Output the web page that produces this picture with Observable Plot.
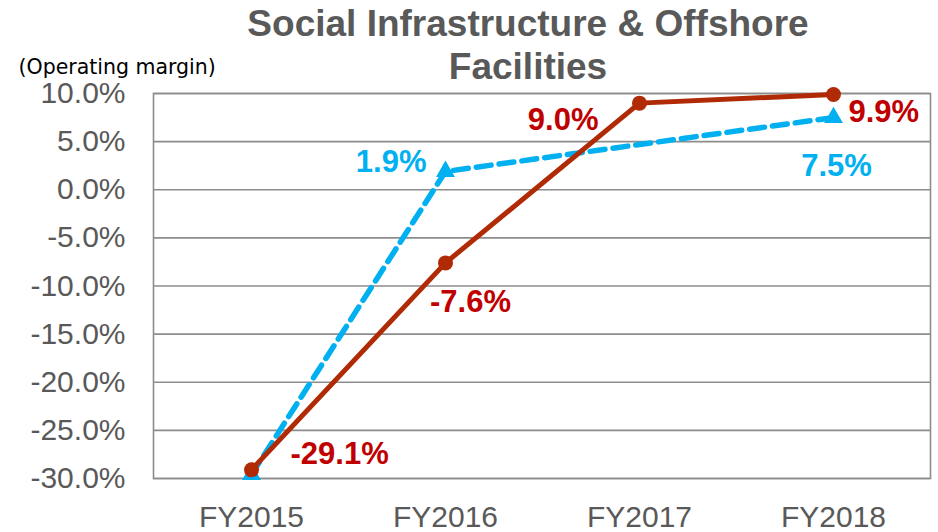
<!DOCTYPE html>
<html>
<head>
<meta charset="utf-8">
<script src="https://cdn.jsdelivr.net/npm/d3@7"></script>
<script src="https://cdn.jsdelivr.net/npm/@observablehq/plot@0.6"></script>
<style>
  html, body { margin: 0; padding: 0; background: #fff; }
</style>
</head>
<body>
<div id="chart"></div>
<script>
const categories = ["FY2015", "FY2016", "FY2017", "FY2018"];
const redValues = [-29.1, -7.6, 9.0, 9.9];
const blueValues = [-29.6, 1.9, null, 7.5];
const yTicks = [-30, -25, -20, -15, -10, -5, 0, 5, 10];
const titleText = "Social Infrastructure & Offshore\nFacilities";
const axisTitle = "(Operating margin)";

const red = categories.map((c, i) => ({cat: c, v: redValues[i], i}));
const blue = categories.map((c, i) => ({cat: c, v: blueValues[i], i})).filter(d => d.v != null);

const redColor = "#B02A05";
const redText = "#C00000";
const blueColor = "#00B0F0";
const gray = "#595959";
const fmt = d => d.toFixed(1) + "%";

const labelStyle = {x: "cat", y: "v", text: d => fmt(d.v), fontSize: 31, fontWeight: "bold", lineAnchor: "middle"};

const chart = Plot.plot({
  width: 938,
  height: 532,
  marginTop: 93,
  marginLeft: 153,
  marginRight: 8,
  marginBottom: 54,
  style: {fontFamily: "Liberation Sans, Arial, sans-serif", background: "#fff"},
  x: {type: "point", domain: categories, padding: 0.5},
  y: {domain: [-30, 10]},
  marks: [
    Plot.ruleY(yTicks, {stroke: "#8c8c8c", strokeWidth: 1.6}),
    Plot.frame({stroke: "#8c8c8c", strokeWidth: 1.6}),
    Plot.axisY({ticks: yTicks, tickFormat: fmt, tickSize: 0, tickPadding: 28, fontSize: 30, fill: gray, label: null}),
    Plot.axisX({tickSize: 0, tickPadding: 27, fontSize: 30, fill: gray, label: null}),
    Plot.line(blue, {x: "cat", y: "v", stroke: blueColor, strokeWidth: 5.5, strokeDasharray: "15,8"}),
    Plot.dot(blue, {x: "cat", y: "v", symbol: "triangle", r: 7, fill: blueColor}),
    Plot.line(red, {x: "cat", y: "v", stroke: redColor, strokeWidth: 5}),
    Plot.dot(red, {x: "cat", y: "v", r: 7.5, fill: redColor}),
    // red labels
    Plot.text(red.filter(d => d.i === 0), {...labelStyle, fill: redText, textAnchor: "start", dx: 39, dy: -16}),
    Plot.text(red.filter(d => d.i === 1), {...labelStyle, fill: redText, textAnchor: "middle", dx: 25, dy: 39}),
    Plot.text(red.filter(d => d.i === 2), {...labelStyle, fill: redText, textAnchor: "end", dx: -41, dy: 17}),
    Plot.text(red.filter(d => d.i === 3), {...labelStyle, fill: redText, textAnchor: "start", dx: 15, dy: 18}),
    // blue labels
    Plot.text(blue.filter(d => d.i === 1), {...labelStyle, fill: blueColor, textAnchor: "end", dx: -19, dy: -9}),
    Plot.text(blue.filter(d => d.i === 3), {...labelStyle, fill: blueColor, textAnchor: "middle", dx: 3, dy: 49}),
    // titles
    Plot.text([titleText], {text: d => d, frameAnchor: "top", lineAnchor: "bottom", dx: -14, dy: -15, fontSize: 37, fontWeight: "bold", fill: gray, lineHeight: 1.14}),
    Plot.text([axisTitle], {text: d => d, frameAnchor: "top-left", textAnchor: "start", lineAnchor: "middle", dx: -135, dy: -26, fontSize: 20.5, fill: "#000", fontFamily: "DejaVu Sans"})
  ]
});
document.getElementById("chart").appendChild(chart);
</script>
</body>
</html>
